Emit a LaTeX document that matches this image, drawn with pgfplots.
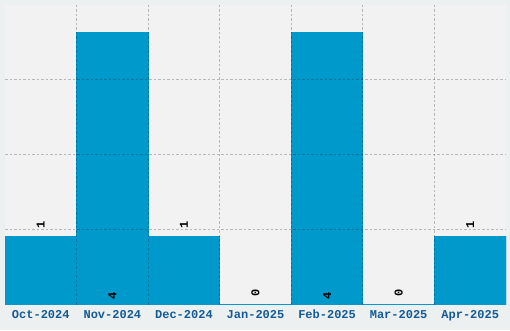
\documentclass[border=0pt]{standalone}
\usepackage{fontspec}
\setmonofont{Liberation Mono}
\usepackage{pgfplots}
\pgfplotsset{compat=1.18}
\definecolor{barblue}{HTML}{0099CC}
\definecolor{outerbg}{HTML}{EDF0F0}
\definecolor{plotbg}{HTML}{F2F2F2}
\definecolor{ticklab}{HTML}{135A96}
\begin{document}
\begin{tikzpicture}[x=1pt,y=1pt]
\path[use as bounding box, fill=outerbg] (-5,-25.5) rectangle (505,304.5);
\begin{axis}[
  at={(0,0)}, anchor=south west,
  scale only axis, width=501pt, height=299.5pt,
  xmin=-0.5, xmax=6.5, ymin=0, ymax=4.4,
  axis background/.style={fill=plotbg},
  axis line style={draw=none},
  major tick length=0pt, minor tick length=0pt,
  xtick={0,1,2,3,4,5,6},
  xticklabels={Oct-2024,Nov-2024,Dec-2024,Jan-2025,Feb-2025,Mar-2025,Apr-2025},
  minor xtick={0.5,1.5,2.5,3.5,4.5,5.5},
  ytick={1.1,2.2,3.3}, yticklabels={},
  ymajorgrids, xminorgrids,
  grid style={black, opacity=0.24, dash pattern=on 2.5pt off 2pt, line width=1pt},
  minor grid style={black, opacity=0.24, dash pattern=on 2.5pt off 2pt, line width=1pt},
  axis on top,
  xticklabel style={font=\ttfamily\bfseries\fontsize{12}{12}\selectfont, text=ticklab, anchor=base, yshift=-14pt},
]
\addplot[ybar, bar width=1, fill=barblue, draw=barblue, line width=0.8pt]
  coordinates {(0,1) (1,4) (2,1) (3,0) (4,4) (5,0) (6,1)};
\addplot[only marks, mark=*, mark size=0pt, mark options={draw=none,fill=none},
  nodes near coords, point meta=explicit symbolic,
  every node near coord/.append style={anchor=center, rotate=90, inner sep=0pt,
    font=\ttfamily\bfseries\fontsize{12}{12}\selectfont, text=black}]
  coordinates {(0,1.174)[1] (1,0.12)[4] (2,1.174)[1] (3,0.174)[0] (4,0.12)[4] (5,0.174)[0] (6,1.174)[1]};
\end{axis}
\end{tikzpicture}
\end{document}
